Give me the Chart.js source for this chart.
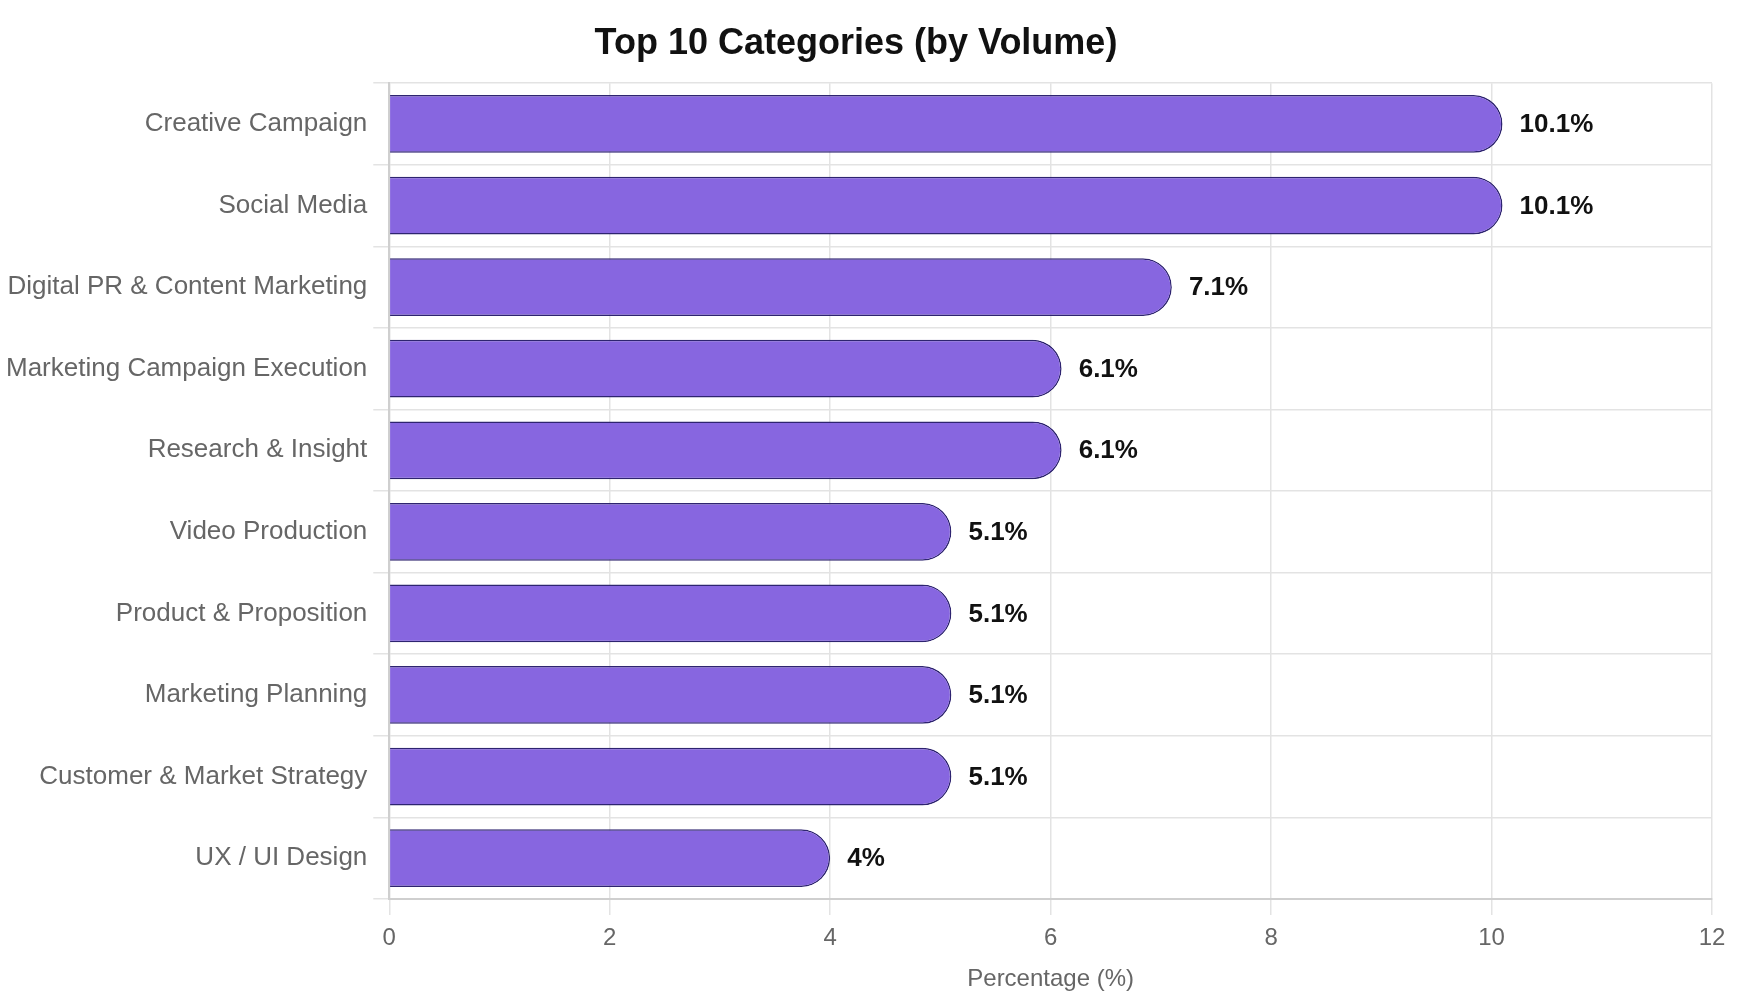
<!DOCTYPE html>
<html>
<head>
<meta charset="utf-8">
<script src="https://cdn.jsdelivr.net/npm/chart.js@4.4.1/dist/chart.umd.min.js"></script>
<style>
  html, body { margin: 0; padding: 0; background: #fff; }
  #wrap { width: 1760px; height: 1000px; }
</style>
</head>
<body>
<div id="wrap"><canvas id="chart"></canvas></div>
<script>
const categories = [
  'Creative Campaign',
  'Social Media',
  'Digital PR & Content Marketing',
  'Marketing Campaign Execution',
  'Research & Insight',
  'Video Production',
  'Product & Proposition',
  'Marketing Planning',
  'Customer & Market Strategy',
  'UX / UI Design'
];
const percentages = [10.1, 10.1, 7.1, 6.1, 6.1, 5.1, 5.1, 5.1, 5.1, 4];
const xTicks = [0, 2, 4, 6, 8, 10, 12];

const FONT = "'Liberation Sans', Arial, Helvetica, sans-serif";

// draws "10.1%" etc. just past the end of each bar
const valueLabels = {
  id: 'valueLabels',
  afterDatasetsDraw(chart) {
    const ctx = chart.ctx;
    const meta = chart.getDatasetMeta(0);
    ctx.save();
    ctx.font = 'bold 26px ' + FONT;
    ctx.fillStyle = '#111';
    ctx.textAlign = 'left';
    ctx.textBaseline = 'middle';
    meta.data.forEach(function (bar, i) {
      ctx.fillText(percentages[i] + '%', bar.x + 17, bar.y + 1);
    });
    ctx.restore();
  }
};

new Chart(document.getElementById('chart'), {
  type: 'bar',
  data: {
    labels: categories,
    datasets: [{
      data: percentages,
      backgroundColor: '#8766e0',
      borderColor: '#2e2470',
      borderWidth: 1.5,
      borderRadius: 40,
      categoryPercentage: 0.8,
      barPercentage: 0.885
    }]
  },
  options: {
    indexAxis: 'y',
    responsive: true,
    maintainAspectRatio: false,
    devicePixelRatio: 1,
    animation: false,
    layout: { padding: { left: 0, right: 48, top: 0, bottom: 0 } },
    plugins: {
      legend: { display: false },
      tooltip: { enabled: false },
      title: {
        display: true,
        text: 'Top 10 Categories (by Volume)',
        color: '#111',
        font: { family: FONT, size: 36, weight: 'bold' },
        padding: { top: 22, bottom: 18 }
      }
    },
    scales: {
      x: {
        min: 0,
        max: 12,
        afterBuildTicks(axis) { axis.ticks = xTicks.map(v => ({ value: v })); },
        grid: { color: '#e3e3e3', lineWidth: 1.5, tickLength: 16 },
        border: { color: '#cfcfcf', width: 2 },
        ticks: { color: '#666', padding: 9, font: { family: FONT, size: 24 } },
        title: {
          display: true,
          text: 'Percentage (%)',
          color: '#666',
          font: { family: FONT, size: 24 },
          padding: { top: 3.5, bottom: 6 }
        }
      },
      y: {
        grid: { color: '#e3e3e3', lineWidth: 1.5, tickLength: 16 },
        border: { color: '#cfcfcf', width: 2 },
        ticks: { color: '#666', padding: 6, font: { family: FONT, size: 26 } }
      }
    }
  },
  plugins: [valueLabels]
});
</script>
</body>
</html>
